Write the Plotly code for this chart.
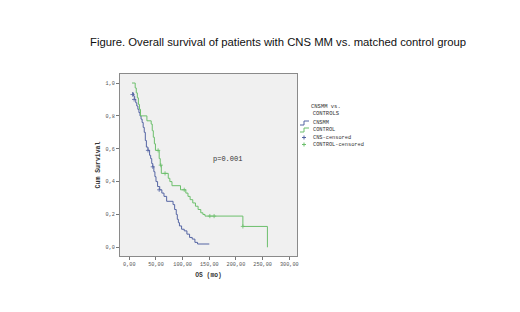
import plotly.graph_objects as go

# ---- data ----
cns_time = [5, 8, 10, 12, 14, 16, 18, 20, 22, 24, 26, 28, 30, 32, 35, 38, 40, 42, 44, 46, 48, 50,
            53, 57, 61, 65, 70, 82, 85, 88, 90, 92, 94, 98, 103, 108, 113, 118, 123, 128, 150]
cns_surv = [0.94, 0.92, 0.90, 0.88, 0.86, 0.84, 0.82, 0.80, 0.78, 0.76, 0.73, 0.70, 0.65, 0.61,
            0.59, 0.56, 0.54, 0.51, 0.49, 0.46, 0.43, 0.40, 0.37, 0.35, 0.33, 0.31, 0.28, 0.26,
            0.23, 0.20, 0.17, 0.15, 0.13, 0.11, 0.10, 0.08, 0.06, 0.05, 0.03, 0.02, 0.02]
ctl_time = [5, 11, 13, 15, 17, 19, 21, 33, 41, 43, 45, 47, 49, 56, 58, 60, 73, 76, 80, 96, 106,
            110, 114, 119, 124, 129, 134, 138, 142, 213, 259]
ctl_surv = [1.0, 0.97, 0.94, 0.91, 0.87, 0.84, 0.80, 0.77, 0.75, 0.71, 0.67, 0.63, 0.59, 0.54,
            0.50, 0.45, 0.42, 0.40, 0.375, 0.35, 0.33, 0.31, 0.29, 0.27, 0.25, 0.23, 0.21, 0.20,
            0.19, 0.127, 0.0]
cns_cens_time = [6, 9, 35, 44, 56]
cns_cens_surv = [0.93, 0.90, 0.59, 0.49, 0.35]
ctl_cens_time = [54, 59, 67, 103, 151, 159, 213]
ctl_cens_surv = [0.59, 0.50, 0.45, 0.35, 0.19, 0.19, 0.127]

x_ticks = [0, 50, 100, 150, 200, 250, 300]
x_tick_labels = ["0,00", "50,00", "100,00", "150,00", "200,00", "250,00", "300,00"]
y_ticks = [0, 0.2, 0.4, 0.6, 0.8, 1.0]
y_tick_labels = ["0,0", "0,2", "0,4", "0,6", "0,8", "1,0"]

legend_title = "CNSMM vs.<br>CONTROLS"
legend_labels = ["CNSMM", "CONTROL", "CNS-censored", "CONTROL-censored"]
title_text = "Figure. Overall survival of patients with CNS MM vs. matched control group"
p_text = "p=0.001"

BLUE = "#5565a3"
GREEN = "#6cbf6c"
MONO = "Liberation Mono"

fig = go.Figure()
fig.add_trace(go.Scatter(x=cns_time, y=cns_surv, mode="lines", line=dict(color=BLUE, width=1, shape="hv"),
                         showlegend=False, hoverinfo="skip"))
fig.add_trace(go.Scatter(x=ctl_time, y=ctl_surv, mode="lines", line=dict(color=GREEN, width=1, shape="hv"),
                         showlegend=False, hoverinfo="skip"))
fig.add_trace(go.Scatter(x=cns_cens_time, y=cns_cens_surv, mode="markers",
                         marker=dict(symbol="cross-thin", size=3, line=dict(color=BLUE, width=0.8)),
                         showlegend=False, hoverinfo="skip"))
fig.add_trace(go.Scatter(x=ctl_cens_time, y=ctl_cens_surv, mode="markers",
                         marker=dict(symbol="cross-thin", size=3, line=dict(color=GREEN, width=0.8)),
                         showlegend=False, hoverinfo="skip"))

# page has an 8px body margin; positions below are in screenshot pixels
OFF = 8
L, R, T, B = 120, 297, 74, 256
W, H = 520, 312

def px(xp):
    return (xp - L) / (R - L)

def py(yp):
    return (B - yp) / (B - T)

fig.update_layout(
    width=W, height=H,
    margin=dict(l=L - OFF, r=W - (R - OFF), t=T - OFF, b=H - (B - OFF), pad=0),
    paper_bgcolor="white",
    plot_bgcolor="#f0f0f0",
    showlegend=False,
    xaxis=dict(range=[-17.5, 314.5], tickvals=x_ticks, ticktext=x_tick_labels,
               showgrid=False, zeroline=False, showline=True, mirror=True, linecolor="#8a8a8a",
               linewidth=1, ticks="outside", ticklen=3, tickcolor="#777",
               tickfont=dict(family=MONO, size=5.2, color="#555"),
               title=dict(text="<b>OS (mo)</b>", font=dict(family=MONO, size=6.3, color="#333"), standoff=5)),
    yaxis=dict(range=[-0.053, 1.055], tickvals=y_ticks, ticktext=y_tick_labels,
               showgrid=False, zeroline=False, showline=True, mirror=True, linecolor="#8a8a8a",
               linewidth=1, ticks="outside", ticklen=3, tickcolor="#777",
               tickfont=dict(family=MONO, size=5.2, color="#555"),
               title=dict(text="<b>Cum Survival</b>", font=dict(family=MONO, size=6.5, color="#333"), standoff=4)),
)

annotations = [
    dict(text=title_text, xref="paper", yref="paper", x=px(278), y=py(42), xanchor="center", yanchor="middle",
         showarrow=False, font=dict(family="Liberation Sans", size=11.3, color="#111")),
    dict(text=p_text, xref="x", yref="y", x=185, y=0.535, xanchor="center", yanchor="middle",
         showarrow=False, font=dict(family=MONO, size=7, color="#333")),
    dict(text=legend_title, xref="paper", yref="paper", x=px(326), y=py(110), xanchor="center", yanchor="middle",
         showarrow=False, align="center", font=dict(family=MONO, size=5.5, color="#333")),
]
legend_y = [123, 130, 137.5, 144.5]
for lab, yy in zip(legend_labels, legend_y):
    annotations.append(dict(text=lab, xref="paper", yref="paper", x=px(311), y=py(yy), xanchor="left",
                            yanchor="middle", showarrow=False, font=dict(family=MONO, size=5.3, color="#333")))
fig.update_layout(annotations=annotations)

shapes = []
for col, yy in zip([BLUE, GREEN], legend_y[:2]):
    path = "M {} {} L {} {} L {} {} L {} {}".format(px(300), py(yy + 2), px(304), py(yy + 2),
                                                    px(304), py(yy - 2), px(309), py(yy - 2))
    shapes.append(dict(type="path", xref="paper", yref="paper", path=path, line=dict(color=col, width=1)))
for col, yy in zip([BLUE, GREEN], legend_y[2:]):
    shapes.append(dict(type="line", xref="paper", yref="paper", x0=px(302), x1=px(306), y0=py(yy), y1=py(yy),
                       line=dict(color=col, width=1)))
    shapes.append(dict(type="line", xref="paper", yref="paper", x0=px(304), x1=px(304), y0=py(yy - 2),
                       y1=py(yy + 2), line=dict(color=col, width=1)))
fig.update_layout(shapes=shapes)

fig.write_html("out.html")
